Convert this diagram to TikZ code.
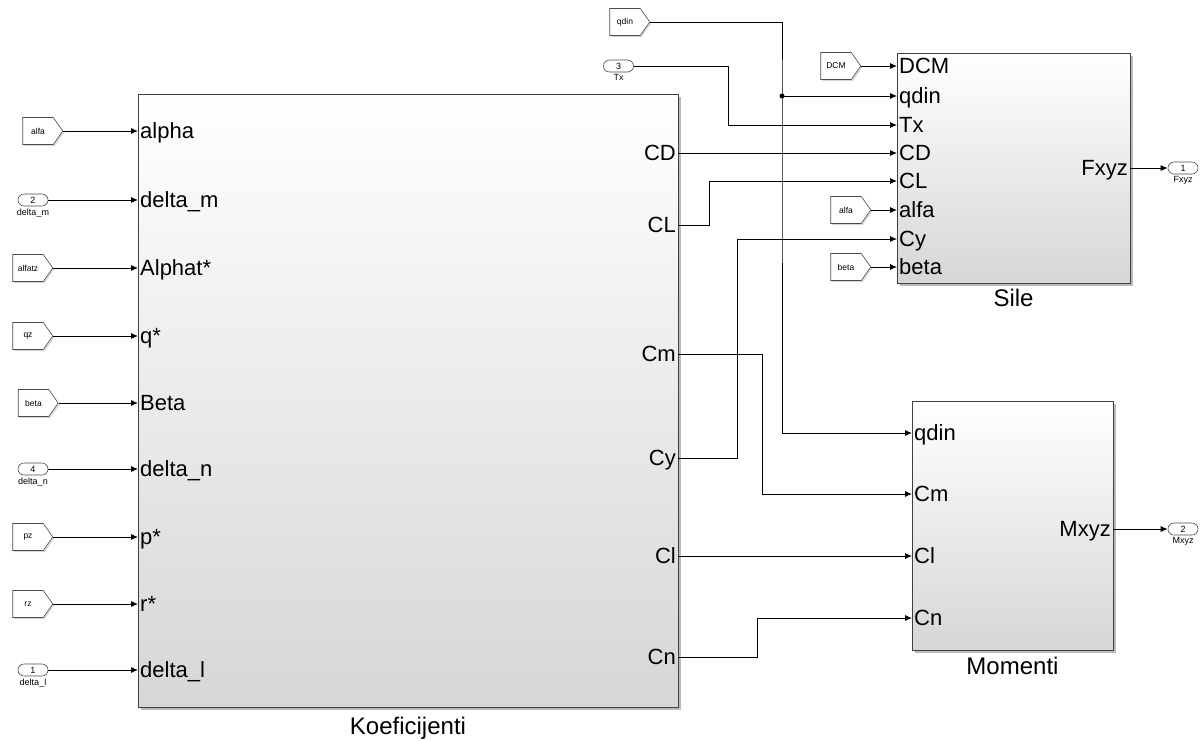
\documentclass[tikz,border=0pt]{standalone}
\usepackage{fontspec}
\setmainfont{Liberation Sans}
\usetikzlibrary{shapes.symbols, shapes.misc, arrows.meta, positioning, shadows}

\begin{document}
\begin{tikzpicture}[x=1pt, y=-1pt, every node/.style={font=\fontsize{22}{24}\selectfont}]
    % Define styles for the blocks
    \tikzstyle{block} = [rectangle, draw=black!75, line width=0.8pt, top color=white, bottom color=black!16, drop shadow={shadow xshift=2.5pt, shadow yshift=-2.5pt, fill=black!45, opacity=0.6}]
    \tikzstyle{blockname} = [inner sep=0pt, text height=17pt, text depth=0pt, font=\fontsize{24}{26}\selectfont]
    \tikzstyle{inlabel} = [anchor=west, inner sep=2pt, text height=15pt, text depth=0pt]
    \tikzstyle{outlabel} = [anchor=east, inner sep=2pt, text height=15pt, text depth=0pt]
    \tikzstyle{tag} = [signal, signal to=east, signal pointer angle=110, draw=black!70, line width=0.6pt, fill=white, minimum width=40pt, minimum height=27pt, inner sep=0pt, font=\fontsize{8.5}{9}\selectfont, drop shadow={shadow xshift=1.5pt, shadow yshift=-1.5pt, fill=black!30, opacity=0.5}]
    \tikzstyle{port} = [rounded rectangle, draw=black!70, line width=0.6pt, fill=white, minimum width=30pt, minimum height=12pt, inner sep=0pt, font=\fontsize{9}{10}\selectfont]
    \tikzstyle{portname} = [inner sep=0pt, font=\fontsize{9}{10}\selectfont]
    \tikzstyle{arrow} = [line width=0.9pt, -{Latex[length=7pt, width=6pt]}]

    \useasboundingbox (0,0) rectangle (1200,740);

    % Define the three subsystems
    \node (koef) [block, minimum width=540pt, minimum height=613pt] at (408,400.5) {};
    \node (sile) [block, minimum width=233pt, minimum height=230pt] at (1013.5,168) {};
    \node (mom) [block, minimum width=201pt, minimum height=249pt] at (1012.5,525.5) {};
    \node (koef-name) [blockname, below=10pt of koef] {Koeficijenti};
    \node (sile-name) [blockname, below=6pt of sile] {Sile};
    \node (mom-name) [blockname, below=7pt of mom] {Momenti};

    % Ports of Koeficijenti
    \node (k-alpha) [inlabel] at (138,131) {alpha};
    \node (k-dm) [inlabel] at (138,200) {delta\_m};
    \node (k-alphat) [inlabel] at (138,268) {Alphat*};
    \node (k-q) [inlabel] at (138,336) {q*};
    \node (k-beta) [inlabel] at (138,403) {Beta};
    \node (k-dn) [inlabel] at (138,469) {delta\_n};
    \node (k-p) [inlabel] at (138,537) {p*};
    \node (k-r) [inlabel] at (138,604) {r*};
    \node (k-dl) [inlabel] at (138,670) {delta\_l};
    \node (k-CD) [outlabel] at (678,153) {CD};
    \node (k-CL) [outlabel] at (678,225) {CL};
    \node (k-Cm) [outlabel] at (678,354) {Cm};
    \node (k-Cy) [outlabel] at (678,458) {Cy};
    \node (k-Cl) [outlabel] at (678,556) {Cl};
    \node (k-Cn) [outlabel] at (678,657) {Cn};

    % Ports of Sile
    \node (s-dcm) [inlabel] at (897,66) {DCM};
    \node (s-qdin) [inlabel] at (897,96) {qdin};
    \node (s-tx) [inlabel] at (897,125) {Tx};
    \node (s-CD) [inlabel] at (897,153) {CD};
    \node (s-CL) [inlabel] at (897,181) {CL};
    \node (s-alfa) [inlabel] at (897,210) {alfa};
    \node (s-Cy) [inlabel] at (897,239) {Cy};
    \node (s-beta) [inlabel] at (897,267) {beta};
    \node (s-fxyz) [outlabel] at (1130,168) {Fxyz};

    % Ports of Momenti
    \node (m-qdin) [inlabel] at (912,433) {qdin};
    \node (m-Cm) [inlabel] at (912,494) {Cm};
    \node (m-Cl) [inlabel] at (912,556) {Cl};
    \node (m-Cn) [inlabel] at (912,618) {Cn};
    \node (m-mxyz) [outlabel] at (1113,529) {Mxyz};

    % Inputs on the left
    \node (alfa-tag) [tag] at (38,131) {alfa};
    \node (dm-in) [port] at (33,200) {2};
    \node [portname, below=2pt of dm-in] {delta\_m};
    \node (alfatz-tag) [tag] at (28,268) {alfatz};
    \node (qz-tag) [tag] at (28,336) {qz};
    \node (beta-tag) [tag] at (33.5,403) {beta};
    \node (dn-in) [port] at (33,469) {4};
    \node [portname, below=2pt of dn-in] {delta\_n};
    \node (pz-tag) [tag] at (28,537) {pz};
    \node (rz-tag) [tag] at (28,604) {rz};
    \node (dl-in) [port] at (33,670) {1};
    \node [portname, below=2pt of dl-in] {delta\_l};

    % Inputs on top and outputs
    \node (qdin-tag) [tag] at (625,22) {qdin};
    \node (tx-in) [port] at (618.5,66) {3};
    \node [portname, below=2pt of tx-in] {Tx};
    \node (dcm-tag) [tag] at (836,66) {DCM};
    \node (alfa-tag2) [tag] at (846,210) {alfa};
    \node (beta-tag2) [tag] at (846,267) {beta};
    \node (fxyz-out) [port] at (1183,168) {1};
    \node [portname, below=2pt of fxyz-out] {Fxyz};
    \node (mxyz-out) [port] at (1183,529) {2};
    \node [portname, below=2pt of mxyz-out] {Mxyz};

    % Bend points
    \coordinate (qbranch) at (782,96);
    \coordinate (txbend) at (728,125);
    \coordinate (clbend) at (709,181);
    \coordinate (cybend) at (737,239);
    \coordinate (cmbend) at (762,494);
    \coordinate (cnbend) at (757,618);

    % Wires into Koeficijenti
    \draw [arrow] (alfa-tag.east) -- (k-alpha.west);
    \draw [arrow] (dm-in.east) -- (k-dm.west);
    \draw [arrow] (alfatz-tag.east) -- (k-alphat.west);
    \draw [arrow] (qz-tag.east) -- (k-q.west);
    \draw [arrow] (beta-tag.east) -- (k-beta.west);
    \draw [arrow] (dn-in.east) -- (k-dn.west);
    \draw [arrow] (pz-tag.east) -- (k-p.west);
    \draw [arrow] (rz-tag.east) -- (k-r.west);
    \draw [arrow] (dl-in.east) -- (k-dl.west);

    % Wires into Sile and Momenti
    \draw [arrow] (dcm-tag.east) -- (s-dcm.west);
    \draw [arrow] (qdin-tag.east) -| (qbranch) |- (m-qdin.west);
    \draw [arrow] (qbranch) -- (s-qdin.west);
    \fill (qbranch) circle (2.5pt);
    \draw [arrow] (tx-in.east) -| (txbend) -- (s-tx.west);
    \draw [arrow] (k-CD.east) -- (s-CD.west);
    \draw [arrow] (k-CL.east) -| (clbend) -- (s-CL.west);
    \draw [arrow] (alfa-tag2.east) -- (s-alfa.west);
    \draw [arrow] (k-Cy.east) -| (cybend) -- (s-Cy.west);
    \draw [arrow] (beta-tag2.east) -- (s-beta.west);
    \draw [arrow] (k-Cm.east) -| (cmbend) -- (m-Cm.west);
    \draw [arrow] (k-Cl.east) -- (m-Cl.west);
    \draw [arrow] (k-Cn.east) -| (cnbend) -- (m-Cn.west);

    % Outputs
    \draw [arrow] (s-fxyz.east) -- (fxyz-out.west);
    \draw [arrow] (m-mxyz.east) -- (mxyz-out.west);

\end{tikzpicture}
\end{document}
